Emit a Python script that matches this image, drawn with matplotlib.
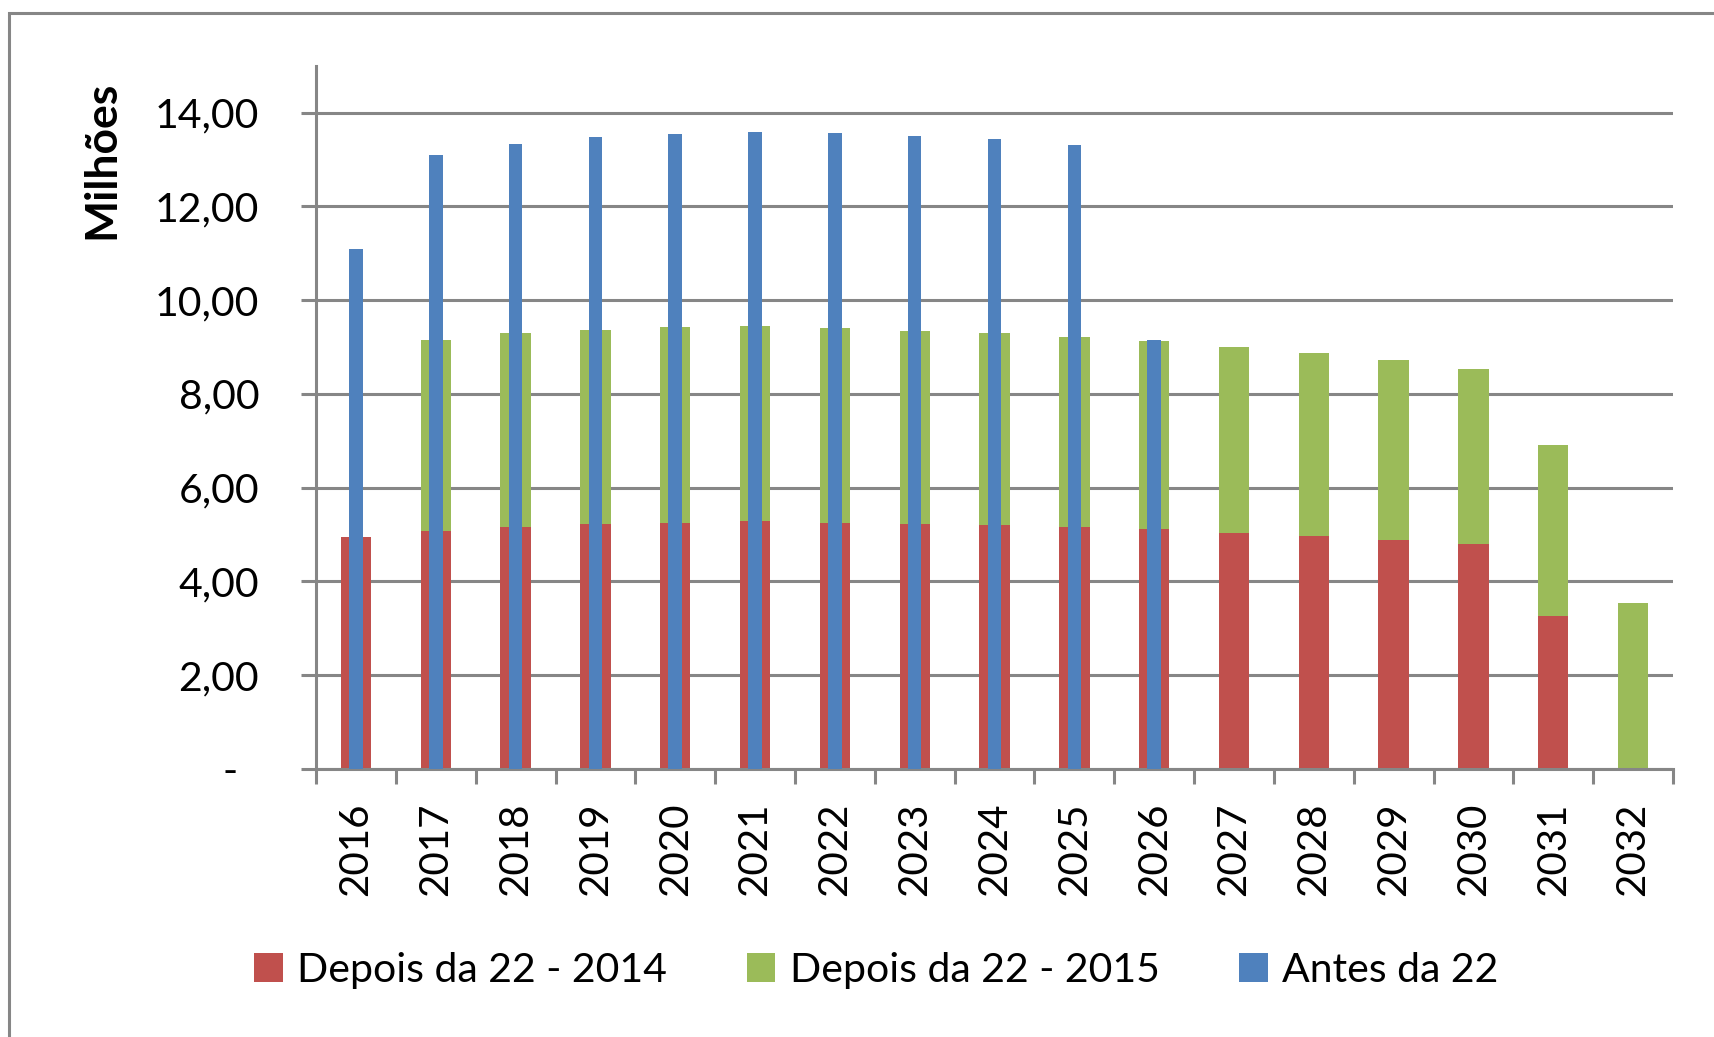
import matplotlib
matplotlib.use('Agg')
import matplotlib.pyplot as plt
from matplotlib.patches import Rectangle
import numpy as np

anos = ['2016', '2017', '2018', '2019', '2020', '2021', '2022', '2023', '2024',
        '2025', '2026', '2027', '2028', '2029', '2030', '2031', '2032']
depois_2014 = [4.95, 5.08, 5.16, 5.22, 5.25, 5.28, 5.25, 5.22, 5.20,
               5.16, 5.11, 5.04, 4.97, 4.89, 4.80, 3.27, 0.0]
depois_2015 = [0.0, 4.06, 4.14, 4.15, 4.18, 4.16, 4.16, 4.13, 4.10,
               4.06, 4.01, 3.96, 3.90, 3.83, 3.73, 3.65, 3.54]
antes_22 = [11.08, 13.09, 13.32, 13.48, 13.55, 13.58, 13.56, 13.51, 13.44,
            13.31, 9.15, 0, 0, 0, 0, 0, 0]
yticks = [0, 2, 4, 6, 8, 10, 12, 14]
ylabels = ['-  ', '2,00', '4,00', '6,00', '8,00', '10,00', '12,00', '14,00']

cor_red = '#C0504D'
cor_green = '#9BBB59'
cor_blue = '#4F81BD'
cinza = '#868686'

plt.rcParams['font.family'] = ['Lato', 'DejaVu Sans']

fig = plt.figure(figsize=(17.15, 10.37), dpi=100)
ax = fig.add_axes([0.1843, 0.2584, 0.9755 - 0.1843, 0.9367 - 0.2584])

x = np.arange(len(anos))
ax.bar(x, depois_2014, width=0.38, color=cor_red, label='Depois da 22 - 2014', zorder=2)
ax.bar(x, depois_2015, width=0.38, bottom=depois_2014, color=cor_green,
       label='Depois da 22 - 2015', zorder=2)
ax.bar(x, antes_22, width=0.17, color=cor_blue, label='Antes da 22', zorder=3)

ax.set_xlim(-0.5, len(anos) - 0.5)
ax.set_ylim(0, 15)
ax.set_yticks(yticks)
ax.set_yticklabels(ylabels)
ax.yaxis.grid(True, color=cinza, linewidth=2.2, zorder=0)
ax.set_axisbelow(True)

ax.set_xticks(x)
ax.set_xticklabels(anos, rotation=90)
ax.set_xticks(np.arange(-0.5, len(anos)), minor=True)
ax.tick_params(axis='x', which='major', length=0, pad=24, labelsize=29)
ax.tick_params(axis='x', which='minor', length=11, width=2.2, color=cinza)
ax.tick_params(axis='y', length=11, width=2.2, color=cinza, pad=30, labelsize=29.5)

for s in ['top', 'right']:
    ax.spines[s].set_visible(False)
for s in ['left', 'bottom']:
    ax.spines[s].set_color(cinza)
    ax.spines[s].set_linewidth(2.2)

fig.text(0.0593, 0.846, 'Milhões', rotation=90, ha='center', va='center',
         fontsize=32, fontweight='bold')

fig.legend(loc='center', bbox_to_anchor=(0.511, 0.0646), ncol=3, frameon=False,
           fontsize=29.5, handlelength=0.7, handleheight=0.7, handletextpad=0.35,
           columnspacing=1.95)

fig.patches.append(Rectangle((0.00525, -0.02), 1.05, 0.9875 + 0.02,
                             transform=fig.transFigure, fill=False,
                             edgecolor=cinza, linewidth=2.2))

fig.savefig('out.png', dpi=100)
